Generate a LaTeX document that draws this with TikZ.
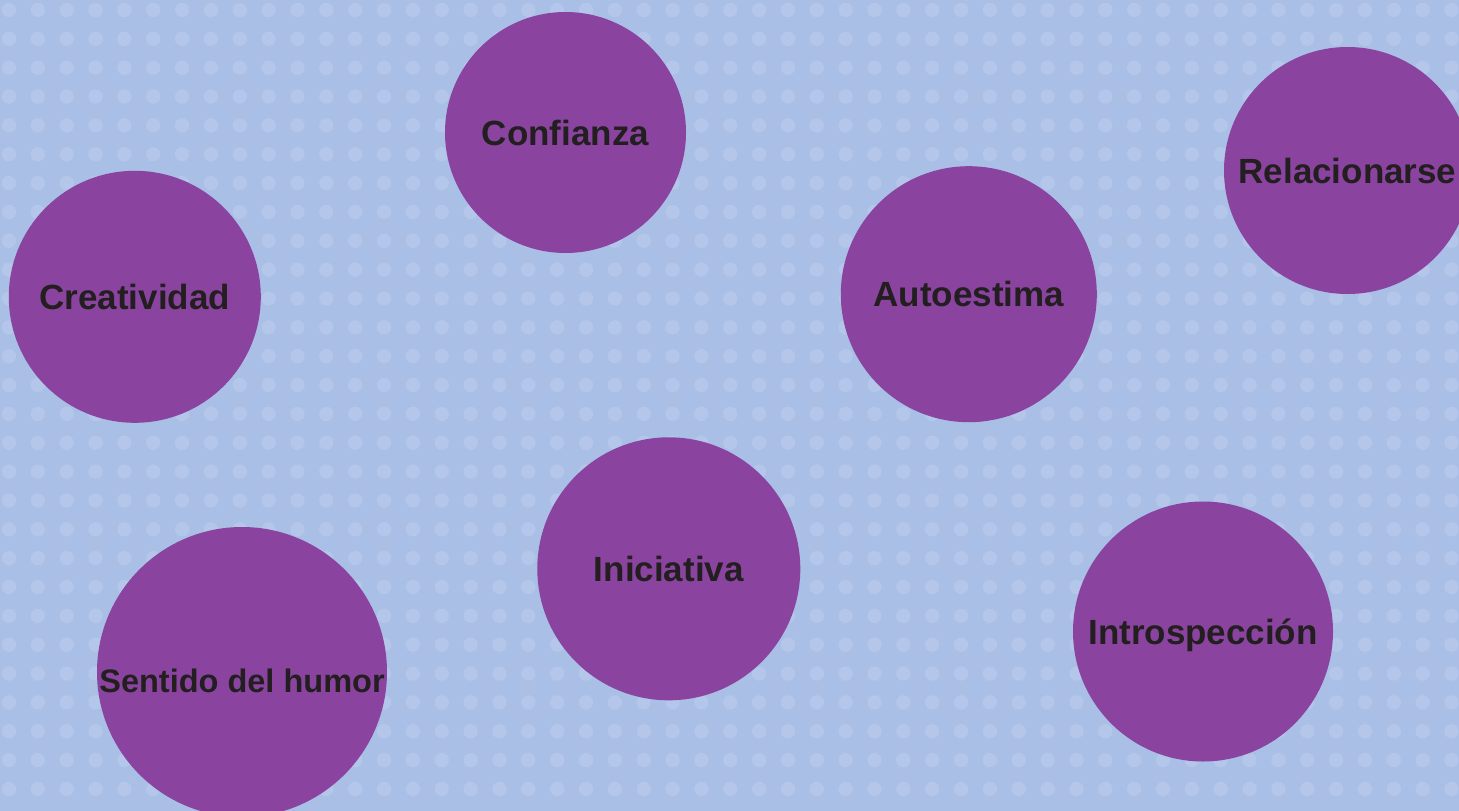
\documentclass[tikz,border=0pt]{standalone}
\usepackage{fontspec}
\setmainfont{Liberation Sans}
\definecolor{bgc}{RGB}{170,191,229}
\definecolor{dotc}{RGB}{180,198,233}
\definecolor{bubc}{RGB}{138,68,160}
\definecolor{txtc}{RGB}{35,31,32}
\tikzset{
  bubble/.style={circle, fill=bubc, draw=none, inner sep=0pt},
  txt/.style={text=txtc, font=\fontsize{35}{40}\selectfont\bfseries, inner sep=0pt, text height=25pt, text depth=0pt, anchor=center},
  smalltxt/.style={txt, font=\fontsize{32.5}{38}\selectfont\bfseries, text height=23.3pt}
}
\begin{document}
\begin{tikzpicture}[x=1pt,y=-1pt]
\useasboundingbox (0,0) rectangle (1459,811);
\clip (0,0) rectangle (1459,811);
\fill[bgc] (0,0) rectangle (1459,811);
\foreach \i in {0,...,50}{
  \foreach \j in {0,...,27}{
    \fill[dotc] ({9+\i*28.85},{10+\j*28.85}) circle (7.2pt);
  }
}
\node[bubble, minimum size=241pt] (conf) at (565.5,132.5) {};
\node[bubble, minimum size=247pt] (rela) at (1347.5,170.5) {};
\node[bubble, minimum size=252pt] (crea) at (134.8,296.8) {};
\node[bubble, minimum size=256pt] (auto) at (968.8,294.2) {};
\node[bubble, minimum size=263pt] (inic) at (668.8,568.8) {};
\node[bubble, minimum size=260pt] (intr) at (1203,631.5) {};
\node[bubble, minimum size=290pt] (humo) at (242,672) {};
\node[txt] (tconf) at (conf.center) {Confianza};
\node[txt] (trela) at (rela.center) {Relacionarse};
\node[txt] (tcrea) at (crea.center) {Creatividad};
\node[txt] (tauto) at (auto.center) {Autoestima};
\node[txt] (tinic) at (inic.center) {Iniciativa};
\node[txt] (tintr) at (intr.center) {Introspección};
\node[smalltxt] (thumo) at ([yshift=-9pt]humo.center) {Sentido del humor};
\end{tikzpicture}
\end{document}
